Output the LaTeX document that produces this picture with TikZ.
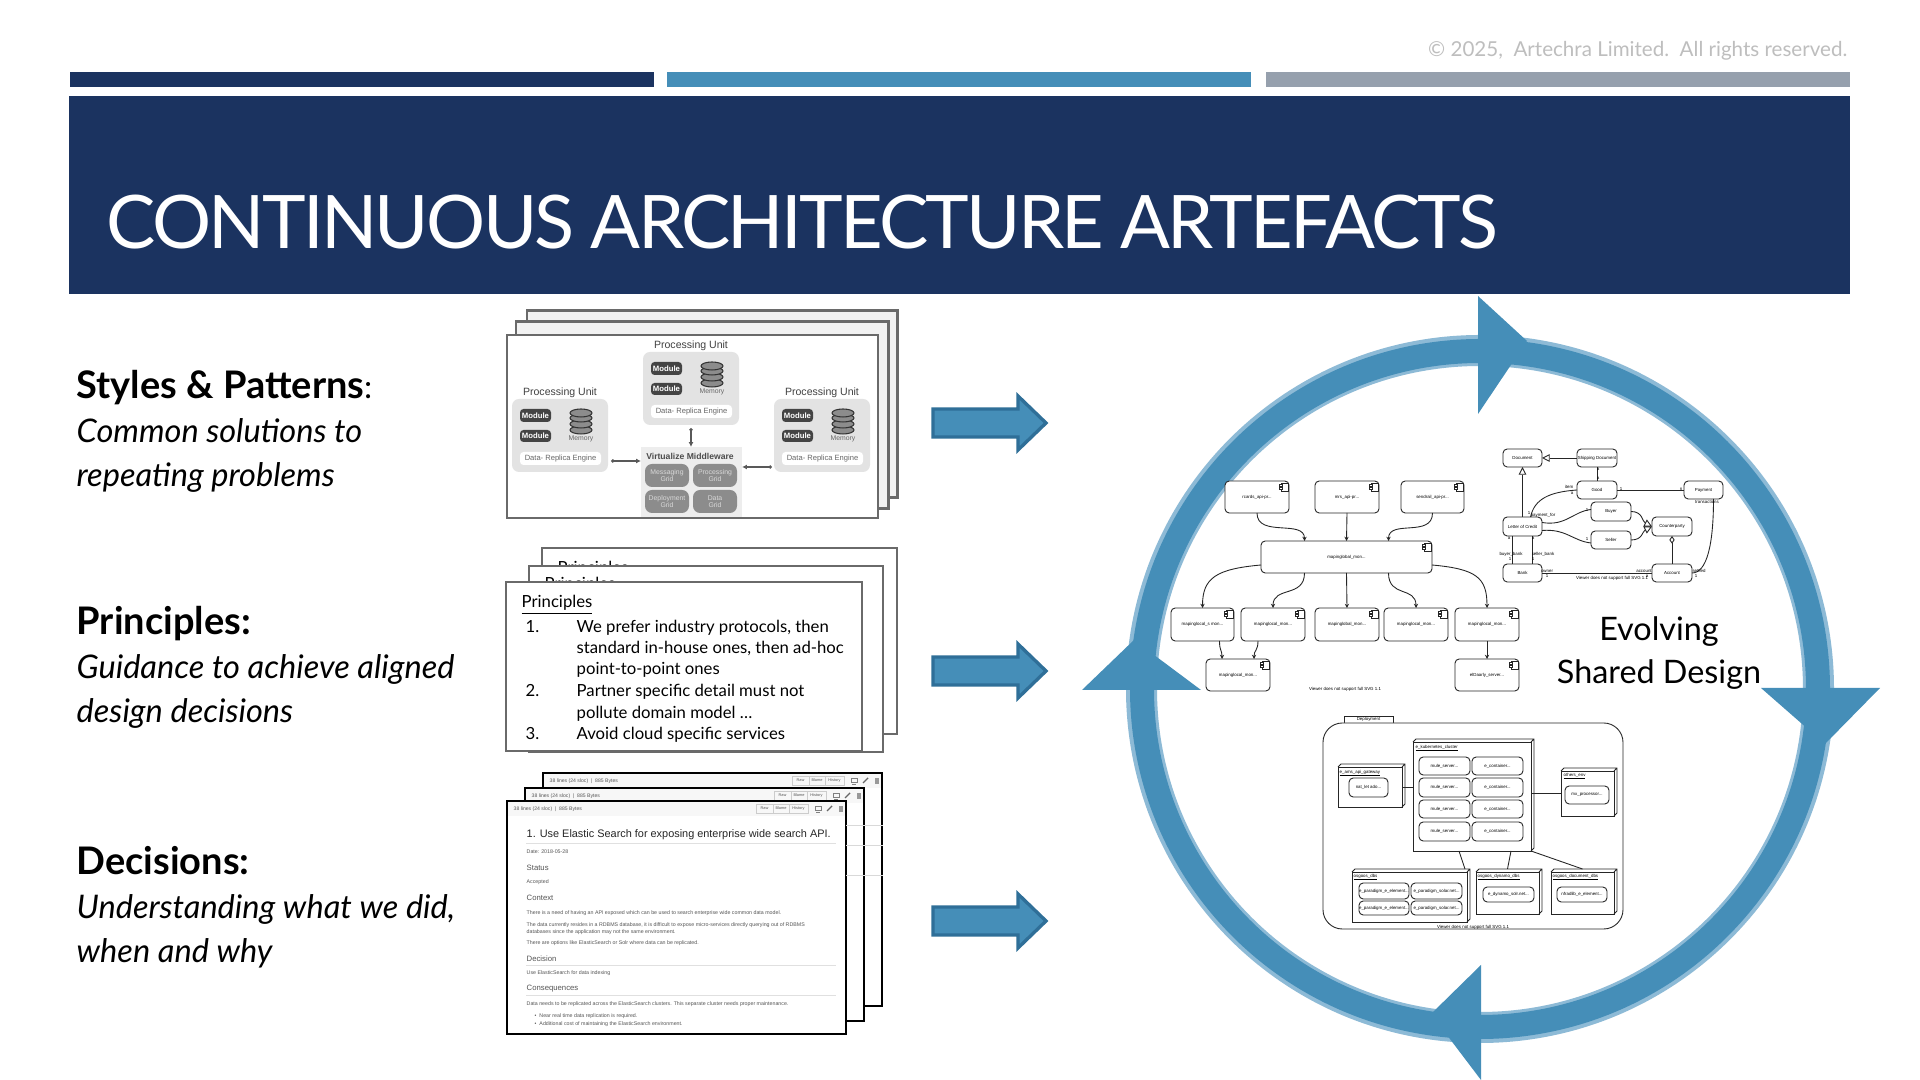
\documentclass[tikz,border=0pt]{standalone}
\usepackage{fontspec}
\usepackage{xcolor}
\usetikzlibrary{arrows.meta}
\setmainfont{Lato}
\newfontfamily\titlefont[LetterSpace=-3.7]{Lato}
\newfontfamily\princfont{Lato}
\newfontfamily\shotfont{Liberation Sans}
\definecolor{navyc}{HTML}{1B3360}
\definecolor{bluec}{HTML}{458EB8}
\definecolor{blueline}{HTML}{2F6F98}
\definecolor{bluesoft}{HTML}{8DBAD6}
\definecolor{greyc}{HTML}{96A0AD}
\definecolor{copyc}{HTML}{BEBEBE}
\definecolor{unitc}{HTML}{E3E3E3}
\definecolor{midc}{HTML}{EDEDED}
\definecolor{gridc}{HTML}{8C8C8C}
\definecolor{modc}{HTML}{444444}
\definecolor{cardc}{HTML}{6A6A6A}
\definecolor{shotc}{HTML}{555555}
\newcommand{\fsz}[1]{\fontsize{#1}{#1}\selectfont}
\newcommand{\undertext}[1]{\vtop{\hbox{#1}\kern.12em\hrule height .07em}}
% name, style, corners x1 y1 x2 y2, text
\newcommand{\pxbox}[7]{%
  \pgfmathsetmacro\bw{(#5-#3)*0.01}%
  \pgfmathsetmacro\bh{(#6-#4)*0.01}%
  \node[#2, minimum width=\bw cm, minimum height=\bh cm, inner sep=0pt, outer sep=0pt] (#1) at ({(#3+#5)/2},{(#4+#6)/2}) {#7};}
\tikzset{
  leadtext/.style={anchor=north west, align=left, inner sep=0pt, font=\fontsize{9.25}{12.5}\selectfont},
  module/.style={fill=modc, rounded corners=1pt, text=white, font=\shotfont\bfseries\fsz{2.2}},
  engine/.style={fill=white, rounded corners=1pt, text=black!60, font=\shotfont\fsz{2.15}},
  gridbox/.style={fill=gridc, rounded corners=2pt, text=white!85!black, align=center, font=\shotfont\fsz{1.95}},
  sheet/.style={draw=cardc, fill=white, line width=.5pt},
  adrsheet/.style={draw=black, fill=white, line width=.75pt},
  princ/.style={anchor=base west, inner sep=0pt, font=\princfont\fsz{4.75}},
  adrtext/.style={anchor=west, inner sep=0pt, text=shotc, font=\shotfont\fsz{1.5}},
  adrhead/.style={anchor=west, inner sep=0pt, text=black!85, font=\shotfont\fsz{3.1}},
  sketch/.style={draw=black!85, fill=white, rounded corners=1.2pt, line width=.25pt, font=\shotfont\fsz{1.25}},
  sketchline/.style={draw=black!85, line width=.25pt},
  cflow/.style={sketchline, -{Stealth[length=1.2pt,width=1.2pt]}},
  uml/.style={inner sep=0pt, font=\shotfont\fsz{1.25}},
}
\begin{document}
\begin{tikzpicture}[x=0.01cm, y=-0.01cm]
  \useasboundingbox (0,0) rectangle (1920,1080);
  \fill[white] (0,0) rectangle (1920,1080);
  % header
  \fill[navyc] (70,72) rectangle (654,87);
  \fill[bluec] (667,72) rectangle (1251,87);
  \fill[greyc] (1266,72) rectangle (1850,87);
  \fill[navyc] (69,96) rectangle (1850,294);
  \node[anchor=base west, inner sep=0pt, text=white, font=\titlefont\fsz{21}] (title) at (106,249) {CONTINUOUS ARCHITECTURE ARTEFACTS};
  \node[anchor=base east, inner sep=0pt, text=copyc, font=\fsz{5.85}] (copy) at (1848,57) {\textcopyright{} 2025,\ \ Artechra Limited.\ \ All rights reserved.};
  % left column
  \node[leadtext] (styles) at (76,370) {\textbf{\fsz{10.8}Styles \& Patterns}:\\\textit{Common solutions to}\\\textit{repeating problems}};
  \node[leadtext] (princ) at (76,606) {\textbf{\fsz{10.8}Principles:}\\\textit{Guidance to achieve aligned}\\\textit{design decisions}};
  \node[leadtext] (decis) at (76,846) {\textbf{\fsz{10.8}Decisions:}\\\textit{Understanding what we did,}\\\textit{when and why}};
  % stacked architecture sheets
  \draw[draw=cardc, fill=black!5, line width=.85pt] (527,311) rectangle (897,498);
  \draw[draw=cardc, fill=black!5, line width=.85pt] (516,322) rectangle (888,509);
  \draw[sheet] (507,335) rectangle (878,518);
  \foreach \n/\dx/\dy in {L/-131/47, M/0/0, R/131/47} {
    \begin{scope}[shift={(\dx,\dy)}, name prefix=\n-]
      \pxbox{unit}{fill=unitc, rounded corners=2pt}{643}{352}{739}{425}{}
      \node[inner sep=0pt, text=black!75, font=\shotfont\fsz{3}] (head) at (691,346) {Processing Unit};
      \pxbox{mod1}{module}{651}{362}{682}{375}{Module}
      \pxbox{mod2}{module}{651}{383}{682}{395}{Module}
      \foreach \yy in {383,377,371,366}
        \filldraw[fill=black!45, draw=black!80, line width=.3pt] (712,\yy) ellipse [x radius=11, y radius=4];
      \node[inner sep=0pt, text=black!60, font=\shotfont\fsz{1.95}] (mem) at (712,392) {Memory};
      \pxbox{engine}{engine}{651}{405}{732}{418}{Data- Replica Engine}
    \end{scope}
  }
  \pxbox{midware}{fill=midc}{641}{447}{742}{517}{}
  \node[inner sep=0pt, text=black!70, font=\shotfont\bfseries\fsz{2.45}] (midhead) at (690,456) {Virtualize Middleware};
  \pxbox{gridA}{gridbox}{645}{464}{689}{487}{Messaging\\Grid}
  \pxbox{gridB}{gridbox}{693}{464}{737}{487}{Processing\\Grid}
  \pxbox{gridC}{gridbox}{645}{490}{689}{513}{Deployment\\Grid}
  \pxbox{gridD}{gridbox}{693}{490}{737}{513}{Data\\Grid}
  \coordinate (lpin) at (611,461);
  \coordinate (rpin) at (772,467);
  \coordinate (mpin) at (691,428);
  \draw[black!65, line width=.3pt, {Circle[length=1pt]}-{Latex[length=1.4pt,width=1.4pt]}] (lpin) -- (midware.west |- lpin);
  \draw[black!65, line width=.3pt, {Circle[length=1pt]}-{Latex[length=1.4pt,width=1.4pt]}] (rpin) -- (midware.east |- rpin);
  \draw[black!65, line width=.3pt, {Circle[length=1pt]}-{Latex[length=1.4pt,width=1.4pt]}] (mpin) -- (midware.north -| mpin);
  % stacked principle sheets
  \draw[sheet] (542,548) rectangle (897,734);
  \node[princ] (backtext) at (557,574) {Principles};
  \draw[sheet] (529,566) rectangle (883,752);
  \node[princ] (midtext) at (544,590) {Principles};
  \draw[sheet] (506,582) rectangle (862,751);
  \node[princ] (fronttext) at (521,608) {\undertext{Principles}};
  \foreach \i/\yy/\nr/\txt in {a/633/1./{We prefer industry protocols, then}, b/654//{standard in-house ones, then ad-hoc}, c/675//{point-to-point ones}, d/697/2./{Partner specific detail must not}, e/719//{pollute domain model \ldots}, f/740/3./{Avoid cloud specific services}} {
    \node[princ] (nr\i) at (525,\yy) {\nr};
    \node[princ] (line\i) at (576,\yy) {\txt};
  }
  % stacked decision sheets
  \foreach \n/\x/\y in {adrC/543/773, adrB/525/788, adrA/507/801} {
    \begin{scope}[shift={(\x,\y)}, name prefix=\n-]
      \draw[adrsheet] (0,0) rectangle (339,233);
      \fill[black!3] (1,1) rectangle (338,15);
      \node[anchor=west, inner sep=0pt, text=shotc, font=\shotfont\fsz{1.45}] (info) at (6,8) {38 lines (24 sloc)\ \ |\ \ 885 Bytes};
      \pxbox{raw}{draw=black!20, line width=.15pt, text=shotc, font=\shotfont\fsz{1.1}}{249}{3}{266}{12}{Raw}
      \pxbox{blame}{draw=black!20, line width=.15pt, text=shotc, font=\shotfont\fsz{1.1}}{266}{3}{282}{12}{Blame}
      \pxbox{hist}{draw=black!20, line width=.15pt, text=shotc, font=\shotfont\fsz{1.1}}{282}{3}{301}{12}{History}
      \draw[black!50, line width=.2pt] (308,5) rectangle (314,9) (309,11) -- (313,11);
      \draw[black!60, line width=.4pt] (320,10) -- (325,5);
      \fill[black!40] (332,5) rectangle (336,11);
    \end{scope}
  }
  \foreach \yy in {825,845,875}
    \draw[black!15, line width=.2pt] (846,\yy) -- (883,\yy);
  \node[adrhead] (adrt) at (526,835) {1. Use Elastic Search for exposing enterprise wide search API.};
  \draw[black!12, line width=.2pt] (526,843) -- (836,843);
  \foreach \i/\yy/\txt in {a/852/{Date: 2018-05-28}, b/882/{Accepted}, c/913/{There is a need of having an API exposed which can be used to search enterprise wide common data model.}, d/925/{The data currently resides in a RDBMS database, it is difficult to expose micro-services directly querying out of RDBMS}, e/932/{databases since the application may not the same environment.}, f/943/{There are options like ElasticSearch or Solr where data can be replicated.}, g/973/{Use ElasticSearch for data indexing}, h/1004/{Data needs to be replicated across the ElasticSearch clusters. This separate cluster needs proper maintenance.}}
    \node[adrtext] (para\i) at (526,\yy) {\txt};
  \foreach \i/\yy/\txt in {a/868/Status, b/898/Context, c/959/Decision, d/989/Consequences}
    \node[adrtext, font=\shotfont\fsz{2.2}] (sect\i) at (526,\yy) {\txt};
  \draw[black!12, line width=.2pt] (526,965) -- (836,965) (526,995) -- (836,995);
  \node[adrtext] (bulA) at (534,1016) {\textbullet\ \ Near real time data replication is required.};
  \node[adrtext] (bulB) at (534,1024) {\textbullet\ \ Additional cost of maintaining the ElasticSearch environment.};
  % block arrows
  \foreach \y in {423,671,921}
    \filldraw[fill=bluec, draw=blueline, line width=.95pt, miter limit=3] (933,\y-14) -- (1018,\y-14) -- (1018,\y-27) -- (1046,\y) -- (1018,\y+27) -- (1018,\y+14) -- (933,\y+14) -- cycle;
  % ring
  \draw[bluesoft, line width=31*0.2845pt] (1480,689) circle [radius=338.5];
  \draw[bluec, line width=24*0.2845pt] (1480,689) circle [radius=338];
  \fill[bluec] (1478,296) -- (1527,341) -- (1478,414) -- cycle;
  \fill[bluec] (1761,688) -- (1880,688) -- (1825,744) -- cycle;
  \fill[bluec] (1481,965) -- (1481,1080) -- (1431,1014) -- cycle;
  \fill[bluec] (1082,690) -- (1201,690) -- (1134,640) -- cycle;
  % component view
  \pxbox{cmpA}{sketch}{1225}{481}{1289}{513}{rcards\_api-pr...}
  \pxbox{cmpB}{sketch}{1315}{481}{1379}{513}{mrs\_api-pr...}
  \pxbox{cmpC}{sketch}{1401}{481}{1464}{513}{sendrail\_api-pr...}
  \pxbox{cmpMain}{sketch}{1261}{541}{1432}{573}{mapinglobal\_mon...}
  \pxbox{cmpD}{sketch}{1171}{608}{1234}{641}{mapinglocal\_s mon...}
  \pxbox{cmpE}{sketch}{1241}{608}{1305}{641}{mapinglocal\_mon...}
  \pxbox{cmpF}{sketch}{1315}{608}{1379}{641}{mapinglobal\_mon...}
  \pxbox{cmpG}{sketch}{1384}{608}{1448}{641}{mapinglocal\_mon...}
  \pxbox{cmpH}{sketch}{1455}{608}{1519}{641}{mapinglocal\_mon...}
  \pxbox{cmpI}{sketch}{1206}{659}{1270}{691}{mapinglocal\_mon...}
  \pxbox{cmpJ}{sketch}{1455}{659}{1519}{691}{elDaarly\_server...}
  \foreach \n in {cmpA,cmpB,cmpC,cmpMain,cmpD,cmpE,cmpF,cmpG,cmpH,cmpI,cmpJ} {
    \draw[sketchline, line width=.2pt] ([shift={(-8,2)}]\n.north east) rectangle ([shift={(-1,10)}]\n.north east);
    \draw[sketchline, line width=.2pt, fill=white] ([shift={(-10,3.5)}]\n.north east) rectangle ([shift={(-6.5,5.5)}]\n.north east);
    \draw[sketchline, line width=.2pt, fill=white] ([shift={(-10,6.5)}]\n.north east) rectangle ([shift={(-6.5,8.5)}]\n.north east);
  }
  \draw[cflow] (cmpA.south) .. controls +(0,25) and +(0,-22) .. ([shift={(-42,0)}]cmpMain.north);
  \draw[cflow] (cmpB.south) -- (cmpMain.north);
  \draw[cflow] (cmpC.south) .. controls +(0,25) and +(0,-22) .. ([shift={(42,0)}]cmpMain.north);
  \draw[cflow] ([shift={(0,8)}]cmpMain.west) .. controls +(-45,4) and +(0,-30) .. (cmpD.north);
  \draw[cflow] ([shift={(-42,0)}]cmpMain.south) .. controls +(0,25) and +(0,-22) .. (cmpE.north);
  \draw[cflow] (cmpMain.south) -- (cmpF.north);
  \draw[cflow] ([shift={(42,0)}]cmpMain.south) .. controls +(0,25) and +(0,-22) .. (cmpG.north);
  \draw[cflow] ([shift={(0,8)}]cmpMain.east) .. controls +(45,4) and +(0,-30) .. (cmpH.north);
  \draw[cflow] ([shift={(17,0)}]cmpD.south) .. controls +(0,10) and +(0,-9) .. ([shift={(-16,0)}]cmpI.north);
  \draw[cflow] ([shift={(-15,0)}]cmpE.south) .. controls +(0,10) and +(0,-9) .. ([shift={(16,0)}]cmpI.north);
  \draw[cflow] (cmpH.south) -- (cmpJ.north);
  \node[uml] (cmpnote) at (1345,689) {Viewer does not support full SVG 1.1};
  % class view
  \pxbox{doc}{sketch}{1503}{449}{1542}{467}{Document}
  \pxbox{ship}{sketch}{1577}{449}{1617}{467}{Shipping Document}
  \pxbox{good}{sketch}{1577}{481}{1617}{499}{Good}
  \pxbox{pay}{sketch}{1684}{481}{1723}{499}{Payment}
  \pxbox{buyer}{sketch}{1591}{502}{1631}{521}{Buyer}
  \pxbox{seller}{sketch}{1591}{531}{1631}{549}{Seller}
  \pxbox{party}{sketch}{1652}{517}{1692}{536}{Counterparty}
  \pxbox{credit}{sketch}{1503}{517}{1542}{536}{Letter of Credit}
  \pxbox{bank}{sketch}{1503}{564}{1542}{582}{Bank}
  \pxbox{acct}{sketch}{1652}{564}{1692}{582}{Account}
  \draw[sketchline, -{Triangle[open,length=2.2pt,width=2.2pt]}] (ship) -- (doc);
  \draw[sketchline, -{Triangle[open,length=2.2pt,width=2.2pt]}] (credit) -- (doc);
  \draw[sketchline] (ship) -- (good);
  \draw[sketchline] (good) -- (pay);
  \draw[sketchline] (good.west) .. controls +(-28,2) and +(4,-18) .. ([shift={(8,0)}]credit.north);
  \draw[sketchline] ([shift={(0,-4)}]credit.east) .. controls +(24,4) and +(-18,2) .. ([shift={(0,-2)}]buyer.west);
  \draw[sketchline] ([shift={(0,4)}]credit.east) .. controls +(24,-2) and +(-18,-2) .. ([shift={(0,3)}]seller.west);
  \draw[sketchline, -{Triangle[open,length=2.2pt,width=2.2pt]}] (buyer.east) .. controls +(12,0) and +(-10,-5) .. (party.west);
  \draw[sketchline, -{Triangle[open,length=2.2pt,width=2.2pt]}] (seller.east) .. controls +(12,0) and +(-10,5) .. (party.west);
  \draw[sketchline, -{Diamond[open,length=2.2pt,width=1.5pt]}] (acct) -- (party);
  \draw[sketchline] ([shift={(-10,0)}]credit.south) -- ([shift={(-10,0)}]bank.north);
  \draw[sketchline] ([shift={(10,0)}]credit.south) -- ([shift={(10,0)}]bank.north);
  \draw[sketchline] (bank) -- (acct);
  \draw[sketchline] ([shift={(10,0)}]pay.south) .. controls +(0,45) and +(15,0) .. (acct.east);
  \foreach \i/\x/\y/\txt in {a/1598/469/a, b/1598/478/a, c/1569/487/item, d/1572/493/a, e/1621/489/1, f/1681/489/n, g/1707/502/transactions, h/1529/513/1, i/1543/515/payment\_for, j/1587/510/1, k/1587/539/1, l/1509/538/a, m/1533/538/a, n/1511/554/buyer\_bank, o/1543/554/seller\_bank, p/1510/559/1, q/1533/559/1, r/1547/571/owner, s/1547/576/1, t/1644/571/account, u/1647/576/a, v/1699/571/settled, w/1696/576/1}
    \node[uml] (lab\i) at (\x,\y) {\txt};
  \node[uml] (umlnote) at (1612,578) {Viewer does not support full SVG 1.1};
  % deployment view
  \pxbox{tab}{sketchline, font=\shotfont\fsz{1.25}}{1344}{716}{1393}{723}{Deployment}
  \pxbox{frame}{sketch, rounded corners=5.5pt}{1323}{723}{1623}{929}{}
  \pxbox{nodeMain}{sketchline}{1413}{742}{1531}{851}{}
  \pxbox{nodeL}{sketchline}{1338}{767}{1402}{807}{}
  \pxbox{nodeR}{sketchline}{1561}{771}{1614}{816}{}
  \pxbox{nodeA}{sketchline}{1352}{872}{1467}{922}{}
  \pxbox{nodeB}{sketchline}{1476}{872}{1539}{914}{}
  \pxbox{nodeC}{sketchline}{1551}{872}{1614}{914}{}
  \foreach \n in {nodeMain,nodeL,nodeR,nodeA,nodeB,nodeC}
    \draw[sketchline] (\n.north west) -- ++(3,-3) -- ([shift={(3,-3)}]\n.north east) -- ([shift={(3,-3)}]\n.south east) -- (\n.south east) (\n.north east) -- ++(3,-3);
  \foreach \i/\yy/\yb in {a/757/775, b/778/797, c/800/818, d/822/841} {
    \pxbox{cellL\i}{sketch}{1419}{\yy}{1470}{\yb}{mule\_server...}
    \pxbox{cellR\i}{sketch}{1472}{\yy}{1523}{\yb}{e\_container...}
  }
  \pxbox{cellX}{sketch}{1349}{778}{1388}{797}{nat\_let ado...}
  \pxbox{cellY}{sketch}{1565}{786}{1609}{804}{mx\_processor...}
  \pxbox{cellP}{sketch}{1359}{883}{1409}{899}{e\_paradigm\_e\_element...}
  \pxbox{cellQ}{sketch}{1411}{883}{1462}{899}{e\_paradigm\_solar.net...}
  \pxbox{cellS}{sketch}{1359}{901}{1409}{915}{e\_paradigm\_e\_element...}
  \pxbox{cellT}{sketch}{1411}{901}{1462}{915}{e\_paradigm\_solar.net...}
  \pxbox{cellU}{sketch}{1483}{887}{1534}{902}{e\_dynamo\_solr.net...}
  \pxbox{cellV}{sketch}{1557}{887}{1607}{902}{nfradlib\_e\_element...}
  \foreach \i/\x/\y/\txt in {a/1415/748/e\_kubernetes\_cluster, b/1339/773/e\_ams\_api\_gateway, c/1563/776/others\_env, d/1353/877/osgoos\_dbs, e/1477/877/osgoos\_dynamo\_dbs, f/1552/877/osgoos\_document\_dbs}
    \node[uml, anchor=west] (cap\i) at (\x,\y) {\undertext{\txt}};
  \draw[sketchline] (nodeL.east |- nodeL) -- (nodeMain.west |- nodeL);
  \draw[sketchline] (nodeMain.east |- nodeR) -- (nodeR.west);
  \draw[sketchline] ([shift={(-13,0)}]nodeMain.south) -- ([shift={(-2,-3)}]nodeA.north east);
  \draw[sketchline] ([shift={(39,0)}]nodeMain.south) -- ([shift={(0,-3)}]nodeB.north);
  \draw[sketchline] (nodeMain.south east) -- ([shift={(0,-3)}]nodeC.north);
  \node[uml] (depnote) at (1473,927) {Viewer does not support full SVG 1.1};
  % centre caption
  \node[align=center, inner sep=0pt, font=\fontsize{9.2}{12.2}\selectfont] (shared) at (1659,653) {Evolving\\Shared Design};
\end{tikzpicture}
\end{document}
